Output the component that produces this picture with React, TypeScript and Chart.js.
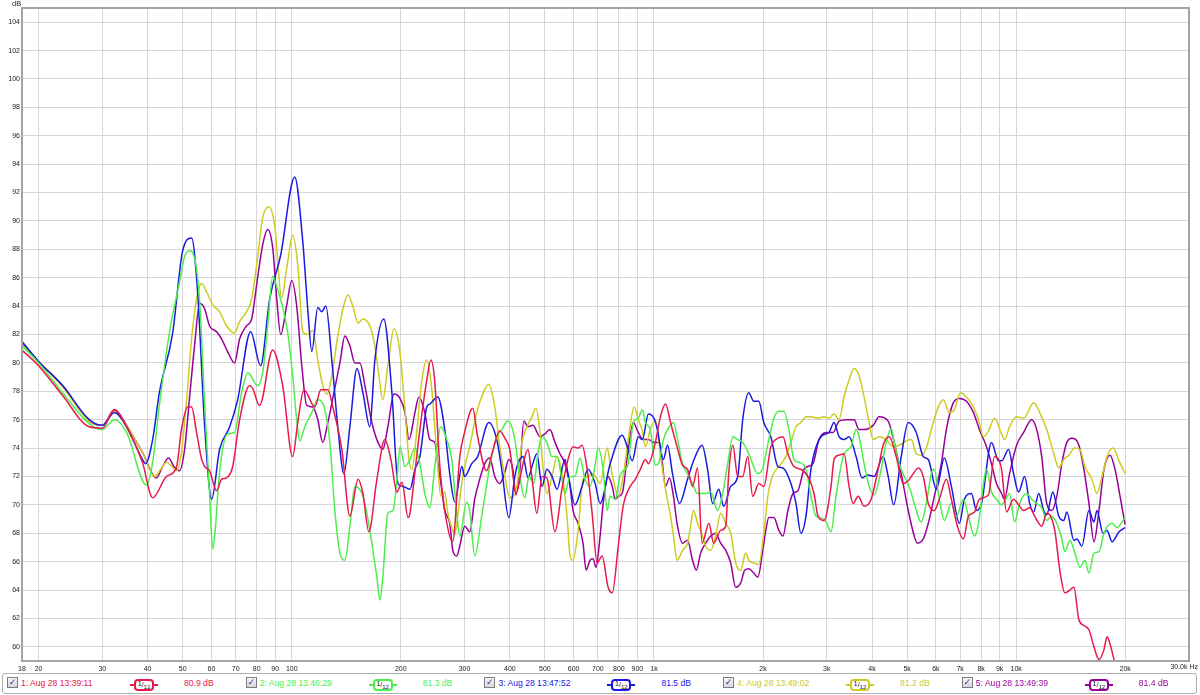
import React, { useEffect, useRef } from "react";
import { Chart, registerables } from "chart.js";

Chart.register(...registerables);

const FONT = "'Liberation Sans', Arial, Helvetica, sans-serif";

// ---- axis ticks ----
const xTickValues = [18, 20, 30, 40, 50, 60, 70, 80, 90, 100, 200, 300, 400, 500, 600, 700, 800, 900, 1000, 2000, 3000, 4000, 5000, 6000, 7000, 8000, 9000, 10000, 20000, 30000];
const xTickLabels = ["18", "20", "30", "40", "50", "60", "70", "80", "90", "100", "200", "300", "400", "500", "600", "700", "800", "900", "1k", "2k", "3k", "4k", "5k", "6k", "7k", "8k", "9k", "10k", "20k", ""];
const yTickValues = [60, 62, 64, 66, 68, 70, 72, 74, 76, 78, 80, 82, 84, 86, 88, 90, 92, 94, 96, 98, 100, 102, 104];
const xEndLabel = "30.0k Hz";
const yUnitLabel = "dB";

// ---- legend ----
const seriesNames = ["1: Aug 28 13:39:11", "2: Aug 28 13:46:29", "3: Aug 28 13:47:52", "4: Aug 28 13:49:02", "5: Aug 28 13:49:39"];
const seriesLevels = ["80.9 dB", "81.3 dB", "81.5 dB", "81.2 dB", "81.4 dB"];
const seriesColors = ["#e8194b", "#4cee4c", "#1a1ae0", "#cccc22", "#990099"];

// ---- traces: [frequency Hz, level dB] ----
const redTrace: [number, number][] = [
  [18.0, 80.9], [20.0, 79.8], [23.3, 77.7], [27.6, 75.5], [30.0, 75.4], [32.4, 76.7], [35.0, 75.5], [38.7, 73.0], [41.3, 70.5], [45.1, 72.0],
  [48.1, 72.7], [49.6, 75.3], [51.6, 76.9], [52.9, 76.9], [54.6, 75.1], [56.4, 73.2], [57.5, 72.7], [59.3, 72.4], [62.0, 71.0], [64.0, 71.8],
  [66.1, 71.9], [68.7, 72.7], [71.8, 76.0], [76.5, 78.4], [78.0, 78.2], [81.5, 77.0], [88.6, 80.9], [94.4, 78.4], [100.6, 73.4], [103.9, 75.8],
  [108.0, 78.1], [115.8, 76.9], [120.3, 78.1], [125.8, 78.1], [129.8, 76.9], [137.5, 73.9], [144.7, 69.2], [152.4, 71.8], [157.2, 70.8], [163.2, 68.1],
  [171.8, 71.8], [180.7, 74.6], [187.8, 73.2], [195.2, 70.9], [201.6, 71.6], [209.4, 69.1], [212, 69.4], [218.8, 72.3], [225.8, 75.3], [236, 78.8],
  [242, 80.2], [248, 78.8], [256, 72.9], [264.5, 69.6], [278, 67.4], [291, 73.4], [300, 75.1], [316, 76.8], [326, 74.8], [345, 72.4],
  [357, 73.6], [375, 75.2], [387.5, 74.7], [400, 73.9], [416, 70.8], [435, 72.9], [449, 73.9], [460, 72.0], [475, 69.4], [491, 72.0],
  [506, 71.9], [533, 68.1], [557, 71.1], [579, 73.2], [598, 74.1], [617, 74.0], [633, 74.2], [654, 72.5], [675, 69.4], [697, 65.9],
  [719, 66.4], [747, 64.2], [767, 63.8], [797, 67.1], [822, 69.9], [860, 71.3], [888, 71.8], [917, 72.5], [947, 73.2], [965, 72.9],
  [1009, 74.4], [1042, 76.2], [1076, 77.1], [1111, 75.8], [1158, 74.1], [1199, 72.8], [1238, 72.5], [1278, 71.3], [1319, 72.6], [1358, 67.3],
  [1418, 68.7], [1461, 67.3], [1528, 68.2], [1578, 68.5], [1608, 72.2], [1651, 74.2], [1703, 72.0], [1758, 72.0], [1815, 73.4], [1874, 70.6],
  [1947, 71.5], [2010, 71.3], [2102, 74.1], [2170, 74.6], [2270, 74.8], [2343, 73.6], [2434, 72.7], [2545, 72.5], [2661, 72.0], [2766, 70.8],
  [2837, 69.2], [2948, 68.9], [3082, 71.3], [3141, 73.2], [3243, 73.5], [3348, 73.6], [3457, 71.3], [3546, 70.1], [3661, 70.6], [3803, 69.9],
  [3977, 70.4], [4158, 72.5], [4292, 74.2], [4460, 74.8], [4664, 73.4], [4877, 71.5], [5035, 71.7], [5198, 72.2], [5365, 72.6], [5540, 72.0],
  [5720, 70.1], [5943, 69.6], [6135, 70.4], [6415, 71.8], [6623, 70.4], [6880, 68.5], [7150, 67.6], [7382, 69.2], [7670, 69.5], [7918, 70.4],
  [8385, 70.7], [8714, 73.4], [9112, 72.5], [9407, 69.5], [9837, 70.4], [10156, 70.0], [10485, 69.6], [10895, 69.8], [11248, 69.2], [11762, 68.5],
  [12144, 69.4], [12379, 69.3], [12781, 68.2], [13195, 65.4], [13623, 63.8], [14065, 64.0], [14430, 64.2], [14900, 61.9], [15380, 61.5], [15880, 61.2],
  [16395, 60.0], [16925, 59.1], [17475, 59.8], [17814, 60.7], [18159, 60.2], [18630, 59.1], [19357, 57.5],
];

const greenTrace: [number, number][] = [
  [18.0, 81.2], [20.0, 80.0], [23.3, 77.9], [27.6, 75.7], [30.0, 75.3], [32.4, 76.0], [35.0, 75.1], [39.7, 71.4], [41.3, 73.0], [43.1, 77.0],
  [46.0, 82.2], [49.0, 85.7], [50.6, 87.5], [52.2, 87.9], [53.9, 87.4], [55.7, 84.3], [57.5, 77.0], [59.3, 70.8], [60.5, 66.9], [61.6, 68.5],
  [62.8, 71.5], [64.4, 73.9], [66.5, 75.0], [69.5, 75.1], [72.7, 77.9], [75.7, 79.3], [80.5, 78.4], [83.1, 79.3], [85.8, 82.6], [88.6, 86.1],
  [90.9, 85.4], [93.8, 84.2], [97.5, 82.1], [100.6, 79.1], [103.2, 76.0], [105.2, 74.5], [108.6, 75.5], [113.6, 76.5], [118.0, 77.4], [123.4, 76.7],
  [127.4, 74.4], [131.5, 69.6], [135.8, 66.6], [140.2, 66.1], [144.7, 68.5], [149.4, 71.3], [156.3, 70.8], [161.2, 69.4], [166.4, 67.3], [171.8, 64.9],
  [175.1, 63.3], [178.4, 64.9], [184.2, 69.4], [190.3, 69.6], [195.2, 71.8], [199.0, 74.1], [205.4, 72.7], [212, 73.2], [218.8, 74.0], [225.8, 72.9],
  [233, 70.8], [240.5, 69.8], [248.3, 72.7], [258, 75.5], [267.9, 74.6], [276.5, 73.2], [285.4, 69.4], [291, 67.8], [304, 70.2], [310, 69.6],
  [320, 66.4], [334.6, 69.2], [352, 72.7], [368, 74.8], [380, 75.3], [395, 75.9], [413, 74.6], [426, 72.0], [440, 70.5], [452, 72.0],
  [466, 71.5], [478, 73.6], [491, 74.8], [506, 74.4], [523, 73.4], [540, 73.4], [557, 71.8], [568, 70.8], [586, 72.0], [605, 72.0],
  [625, 73.3], [645, 71.8], [666, 71.3], [688, 72.8], [701, 74.0], [724, 72.5], [743, 69.6], [757, 70.6], [782, 70.4], [807, 72.1],
  [833, 72.5], [849, 72.9], [877, 75.8], [905, 76.1], [929, 76.7], [947, 75.8], [977, 75.3], [1009, 72.8], [1029, 72.9], [1062, 74.6],
  [1090, 75.3], [1132, 75.8], [1158, 74.8], [1199, 72.9], [1238, 72.2], [1278, 71.5], [1319, 70.8], [1389, 70.8], [1434, 70.9], [1499, 69.6],
  [1548, 70.8], [1598, 72.9], [1651, 74.8], [1703, 74.6], [1758, 74.4], [1827, 73.6], [1935, 72.2], [1997, 72.6], [2075, 74.6], [2143, 76.1],
  [2212, 76.6], [2284, 76.6], [2358, 75.3], [2434, 73.2], [2513, 73.0], [2628, 72.5], [2713, 70.6], [2801, 69.2], [2892, 69.1], [2985, 68.8],
  [3082, 68.1], [3181, 70.6], [3327, 73.4], [3435, 73.9], [3501, 74.1], [3614, 75.3], [3684, 74.8], [3803, 72.9], [3927, 71.3], [4053, 70.7],
  [4238, 72.5], [4376, 74.4], [4517, 75.4], [4605, 74.4], [4754, 72.9], [4908, 72.0], [5067, 71.3], [5231, 70.1], [5470, 68.8], [5647, 70.1],
  [5830, 72.2], [5943, 72.5], [6135, 70.4], [6334, 68.9], [6623, 70.1], [6838, 69.2], [7150, 70.4], [7382, 69.2], [7670, 67.8], [7868, 68.7],
  [8123, 71.5], [8280, 72.5], [8548, 70.9], [8825, 70.4], [9112, 70.0], [9407, 70.5], [9589, 70.8], [9900, 68.8], [10222, 70.1], [10688, 70.8],
  [11035, 70.4], [11393, 70.1], [11762, 69.8], [12144, 68.9], [12538, 69.2], [12945, 68.7], [13365, 67.6], [13623, 66.7], [14065, 67.5], [14522, 66.6],
  [14993, 65.6], [15479, 66.1], [15880, 65.2], [16395, 66.6], [16925, 66.7], [17475, 68.0], [18392, 68.7], [18989, 68.4], [19606, 68.8], [19985, 69.1],
];

const blueTrace: [number, number][] = [
  [18.0, 81.5], [20.0, 80.1], [23.3, 78.4], [27.6, 76.0], [30.0, 75.6], [32.4, 76.5], [35.0, 75.5], [38.7, 73.2], [39.5, 72.9], [41.3, 74.6],
  [43.1, 77.9], [46.9, 82.1], [49.9, 87.8], [52.9, 88.8], [55.0, 84.9], [57.5, 75.5], [60.1, 70.4], [63.2, 73.9], [67.4, 75.5], [70.9, 77.4],
  [77.0, 82.2], [82.0, 79.8], [86.9, 84.5], [93.2, 87.6], [101.9, 93.1], [107.3, 88.5], [110.7, 83.8], [113.6, 80.8], [118.0, 83.9], [121.0, 83.6],
  [124.2, 84.0], [129.0, 80.2], [134.0, 75.5], [139.3, 72.2], [144.7, 75.5], [151.4, 79.6], [157.2, 77.9], [164.3, 75.5], [169.6, 80.2], [179.5, 83.1],
  [189.0, 77.9], [196.5, 71.5], [202.9, 71.3], [212, 71.1], [218.8, 72.5], [225.8, 73.4], [236, 76.9], [240.5, 77.1], [253, 77.6], [264.5, 75.3],
  [273, 72.2], [282, 70.2], [295, 72.7], [300, 72.0], [314, 72.9], [326, 73.4], [350, 75.8], [368, 74.6], [380, 72.5], [397.5, 69.1],
  [413, 72.0], [421, 72.9], [435, 73.4], [449, 71.9], [463, 72.9], [475, 73.6], [491, 71.3], [506, 72.5], [523, 72.0], [540, 71.1],
  [568, 73.2], [579, 72.2], [605, 70.0], [633, 71.3], [658, 72.5], [688, 71.5], [710, 70.1], [757, 72.9], [817, 74.9], [844, 74.1],
  [871, 73.1], [905, 74.8], [929, 74.6], [965, 76.4], [1000, 76.1], [1022, 75.3], [1062, 73.2], [1090, 74.2], [1125, 72.2], [1176, 70.1],
  [1238, 71.8], [1286, 73.1], [1358, 74.2], [1406, 72.5], [1452, 70.1], [1509, 71.1], [1558, 69.9], [1629, 71.3], [1703, 72.0], [1758, 76.0],
  [1827, 77.9], [1886, 77.3], [1947, 77.3], [2010, 75.8], [2102, 74.8], [2198, 72.7], [2270, 72.6], [2388, 71.5], [2466, 70.1], [2545, 68.0],
  [2628, 69.2], [2713, 72.5], [2892, 74.8], [3043, 75.1], [3141, 75.8], [3243, 74.8], [3348, 74.6], [3457, 74.8], [3614, 73.4], [3755, 71.9],
  [3900, 72.1], [4053, 72.0], [4290, 73.4], [4432, 72.0], [4590, 70.0], [4815, 73.4], [5035, 75.8], [5298, 75.1], [5540, 73.4], [5720, 73.2],
  [6019, 71.1], [6334, 73.3], [6623, 71.3], [6970, 68.7], [7196, 70.4], [7524, 70.8], [7768, 69.6], [8020, 70.1], [8548, 74.4], [8940, 73.1],
  [9112, 73.1], [9530, 73.9], [9837, 72.2], [10156, 70.9], [10553, 72.0], [10895, 70.1], [11180, 69.5], [11540, 70.8], [11910, 69.6], [12144, 69.3],
  [12620, 70.9], [13110, 69.2], [13540, 68.9], [13798, 69.5], [14430, 67.5], [14708, 67.6], [15185, 67.1], [15880, 69.6], [16395, 68.8], [16711, 69.6],
  [17365, 68.0], [17814, 68.2], [18392, 67.4], [19230, 68.1], [19985, 68.4],
];

const yellowTrace: [number, number][] = [
  [18.0, 81.3], [20.0, 80.1], [23.3, 78.3], [27.6, 75.9], [30.0, 75.6], [32.4, 76.6], [35.0, 75.6], [38.7, 73.7], [41.8, 72.0], [43.7, 72.6],
  [45.1, 73.0], [46.6, 72.7], [48.1, 72.4], [49.6, 73.7], [51.3, 77.5], [52.9, 81.7], [54.6, 84.5], [56.4, 85.6], [58.2, 85.0], [60.5, 84.1],
  [63.2, 83.6], [66.1, 82.6], [69.5, 82.1], [71.8, 82.9], [75.0, 83.6], [77.5, 84.5], [80.0, 86.9], [83.1, 90.2], [86.4, 91.0], [89.7, 89.7],
  [93.8, 84.6], [96.9, 86.7], [100.6, 89.0], [103.9, 86.9], [107.3, 82.2], [110.7, 82.0], [114.3, 82.3], [118.0, 80.2], [121.8, 78.4], [125.0, 77.8],
  [129.0, 79.1], [134.0, 81.9], [138.4, 83.8], [142.9, 84.8], [147.4, 84.0], [152.4, 82.8], [157.2, 83.1], [164.3, 82.6], [169.6, 81.2], [174.0, 79.1],
  [178.4, 77.4], [184.2, 79.8], [191.5, 82.4], [199.0, 80.7], [205.4, 76.7], [210.7, 73.2], [214.7, 72.5], [221.6, 75.3], [228.7, 78.8], [236, 80.2],
  [243.6, 78.1], [251.5, 73.6], [258, 70.6], [264.5, 70.9], [269.6, 69.4], [278.3, 68.2], [281.8, 67.9], [287.2, 69.2], [296.5, 72.0], [310, 74.1],
  [324, 76.5], [336.7, 77.8], [349.8, 78.5], [363.5, 76.9], [375.3, 74.1], [387.5, 72.0], [400, 70.5], [418.3, 71.3], [431.9, 74.4], [446, 75.5],
  [460.3, 76.2], [472.2, 76.8], [484.4, 75.1], [493.8, 72.7], [506.5, 70.8], [522.9, 72.0], [539.8, 73.4], [557.3, 72.2], [575.4, 69.2], [586.5, 66.4],
  [597.8, 66.1], [617.2, 68.2], [637, 71.8], [658, 72.0], [675, 72.2], [697, 71.8], [710, 71.5], [743, 74.0], [757, 72.9], [772, 71.8],
  [797, 70.6], [822, 72.0], [849, 74.6], [882, 76.9], [905, 76.0], [929, 75.2], [947, 74.1], [977, 75.3], [1009, 76.0], [1042, 73.5],
  [1076, 71.1], [1111, 69.2], [1132, 67.8], [1158, 66.1], [1199, 66.8], [1238, 67.3], [1262, 68.5], [1286, 69.6], [1319, 68.7], [1345, 68.2],
  [1389, 67.1], [1434, 66.8], [1480, 67.8], [1528, 69.4], [1578, 68.7], [1629, 68.0], [1681, 65.9], [1736, 65.4], [1792, 66.6], [1827, 66.1],
  [1886, 65.9], [1947, 65.8], [2010, 68.0], [2062, 70.6], [2129, 72.1], [2212, 72.7], [2313, 73.4], [2388, 74.4], [2466, 75.5], [2545, 75.8],
  [2628, 76.2], [2713, 76.2], [2837, 76.1], [2948, 76.2], [3043, 76.1], [3141, 76.4], [3243, 76.0], [3348, 77.6], [3457, 78.8], [3569, 79.6],
  [3684, 79.1], [3803, 77.6], [3927, 75.8], [4027, 74.6], [4185, 74.8], [4376, 74.6], [4575, 74.1], [4754, 74.2], [4971, 74.5], [5132, 74.6],
  [5298, 73.6], [5470, 73.5], [5647, 74.0], [5830, 75.3], [6096, 76.9], [6294, 77.4], [6539, 76.5], [6751, 76.7], [7014, 77.9], [7288, 77.6],
  [7621, 76.9], [7868, 76.0], [8123, 74.8], [8385, 75.2], [8714, 76.1], [9112, 75.0], [9288, 74.6], [9589, 75.5], [10027, 76.2], [10485, 76.1],
  [11180, 77.2], [11613, 76.5], [12144, 75.3], [12700, 73.6], [13110, 72.6], [13540, 73.2], [13976, 73.5], [14522, 74.0], [14993, 73.9], [15479, 72.7],
  [16186, 71.8], [16711, 70.8], [17254, 72.0], [17814, 73.4], [18510, 74.0], [19230, 73.1], [19985, 72.2],
];

const purpleTrace: [number, number][] = [
  [18.0, 81.4], [20.0, 80.1], [23.3, 78.4], [27.6, 75.9], [30.0, 75.6], [32.4, 76.7], [35.0, 75.6], [38.7, 73.7], [42.3, 71.9], [44.0, 72.7],
  [45.7, 73.3], [47.3, 72.7], [49.0, 72.4], [50.6, 73.9], [52.2, 77.5], [53.9, 81.2], [55.7, 84.2], [57.5, 83.8], [59.3, 82.6], [62.0, 82.2],
  [64.0, 81.7], [66.5, 80.8], [69.5, 80.0], [71.8, 81.7], [75.0, 82.6], [77.5, 83.1], [80.0, 85.5], [83.1, 88.3], [85.8, 89.4], [88.6, 88.1],
  [90.9, 84.5], [93.2, 82.0], [96.9, 84.1], [100, 85.8], [103.2, 84.0], [106.6, 79.8], [110, 77.0], [114.3, 76.9], [118, 76.0], [121.8, 74.4],
  [125.8, 75.8], [129.8, 77.5], [135.8, 80.0], [140.2, 81.9], [144.7, 81.2], [149.4, 80.0], [154.3, 80.0], [159.2, 78.4], [166.4, 75.8], [173, 74.4],
  [178.4, 73.9], [184.2, 75.5], [191.5, 77.8], [199, 77.5], [205.4, 76.5], [210.7, 74.6], [218.8, 76.5], [224.4, 77.6], [233, 76.5], [240.5, 74.6],
  [248.3, 74.4], [253.1, 72.9], [259.5, 71.1], [264.5, 69.6], [273, 68.7], [278.3, 66.8], [285.4, 66.4], [291, 67.1], [300.3, 68.5], [310, 68.1],
  [320, 70.4], [330.3, 71.8], [341, 72.9], [352, 73.3], [363.5, 72.0], [375.3, 71.5], [387.5, 72.3], [397.5, 73.2], [407.8, 72.5], [415.6, 70.7],
  [426.4, 72.5], [437.4, 75.9], [448.7, 75.5], [463.2, 75.6], [484.4, 74.8], [500, 75.0], [516, 75.3], [533, 74.4], [550, 73.6], [568, 72.9],
  [586.5, 71.3], [597.8, 69.6], [617.2, 68.7], [637, 67.3], [649.5, 65.4], [666, 66.1], [679, 66.2], [692, 65.6], [710, 67.8], [724, 70.1],
  [747, 72.0], [767, 71.3], [782, 70.4], [797, 70.6], [817, 70.8], [844, 73.4], [877, 75.8], [905, 75.1], [934, 74.6], [965, 74.6],
  [1000, 74.4], [1035, 74.4], [1055, 72.9], [1076, 71.3], [1104, 71.9], [1132, 70.6], [1158, 68.7], [1199, 67.3], [1238, 67.5], [1278, 66.1],
  [1310, 65.4], [1345, 66.6], [1389, 67.3], [1434, 67.8], [1480, 68.0], [1528, 67.3], [1578, 66.8], [1629, 65.9], [1681, 64.2], [1736, 64.5],
  [1780, 65.4], [1827, 65.5], [1886, 65.2], [1935, 64.9], [1997, 66.8], [2036, 68.2], [2075, 69.1], [2143, 69.1], [2212, 68.2], [2270, 67.8],
  [2343, 69.6], [2419, 70.8], [2497, 71.0], [2595, 72.5], [2661, 72.7], [2748, 72.9], [2855, 74.6], [2985, 75.1], [3122, 75.1], [3243, 75.9],
  [3391, 76.0], [3569, 76.0], [3684, 75.3], [3803, 75.3], [4027, 75.6], [4185, 76.2], [4432, 75.9], [4605, 74.4], [4815, 72.2], [5035, 69.6],
  [5231, 67.8], [5333, 67.3], [5540, 67.6], [5720, 68.7], [5943, 70.6], [6214, 72.9], [6415, 75.3], [6708, 77.2], [6970, 77.5], [7288, 77.3],
  [7621, 76.5], [7918, 75.3], [8280, 74.1], [8548, 72.9], [8825, 71.5], [9112, 70.8], [9288, 70.4], [9589, 72.2], [10027, 74.2], [10485, 75.1],
  [11035, 76.0], [11393, 75.3], [11762, 73.4], [12144, 70.1], [12538, 69.6], [12945, 70.6], [13365, 72.9], [13798, 74.4], [14246, 74.7], [14900, 74.2],
  [15380, 72.5], [15880, 70.1], [16395, 67.4], [16925, 69.6], [17475, 72.5], [18159, 73.5], [18748, 72.5], [19357, 70.6], [19985, 68.6],
];

const traces = [redTrace, greenTrace, blueTrace, yellowTrace, purpleTrace];

const framePlugin = {
  id: "frame",
  afterDraw(chart: any) {
    const { ctx, chartArea } = chart;
    ctx.save();
    ctx.strokeStyle = "#a4a4a4";
    ctx.lineWidth = 2;
    ctx.strokeRect(chartArea.left, chartArea.top, chartArea.right - chartArea.left, chartArea.bottom - chartArea.top);
    ctx.restore();
  },
};

function LegendItem({ index }: { index: number }) {
  const base = 7 + 238.7 * index;
  const color = seriesColors[index];
  return (
    <>
      <div
        style={{
          position: "absolute", left: base, top: 677, width: 9, height: 9,
          border: "1px solid #7c7c7c", background: "linear-gradient(#f6f6f6, #d8d8d8)",
          fontFamily: "'DejaVu Sans', sans-serif", fontSize: 9, lineHeight: "9px",
          color: "#2a3a96", textAlign: "center", fontWeight: "bold",
        }}
      >
        ✓
      </div>
      <div style={{ position: "absolute", left: base + 14, top: 677, fontFamily: FONT, fontSize: 8.6, lineHeight: "12px", color, whiteSpace: "nowrap" }}>
        {seriesNames[index]}
      </div>
      <div style={{ position: "absolute", left: base + 123, top: 684, width: 28, height: 2, background: color }} />
      <div
        style={{
          position: "absolute", left: base + 127, top: 679, width: 16, height: 8,
          border: `2px solid ${color}`, borderRadius: 4, background: "#fff",
          fontFamily: FONT, fontSize: 7, lineHeight: "8px", color: "#111", textAlign: "center", whiteSpace: "nowrap",
        }}
      >
        <span style={{ position: "relative", top: -1 }}>1</span>/<span style={{ position: "relative", top: 2, fontSize: 6 }}>12</span>
      </div>
      <div style={{ position: "absolute", left: base + 177, top: 677, fontFamily: FONT, fontSize: 8.6, lineHeight: "12px", color, whiteSpace: "nowrap" }}>
        {seriesLevels[index]}
      </div>
    </>
  );
}

export default function App() {
  const canvasRef = useRef<HTMLCanvasElement | null>(null);

  useEffect(() => {
    const canvas = canvasRef.current;
    if (!canvas) return;
    const chart = new Chart(canvas, {
      type: "line",
      data: {
        datasets: traces.map((t, i) => ({
          label: seriesNames[i],
          data: t.map(([x, y]) => ({ x, y })),
          borderColor: seriesColors[i],
          backgroundColor: seriesColors[i],
          borderWidth: 1.5,
          pointRadius: 0,
          cubicInterpolationMode: "monotone" as const,
          fill: false,
        })),
      },
      options: {
        responsive: false,
        animation: false,
        layout: { padding: { top: 8, right: 11, left: 0, bottom: 0 } },
        plugins: { legend: { display: false }, tooltip: { enabled: false } },
        scales: {
          x: {
            type: "logarithmic",
            min: 18,
            max: 30000,
            afterBuildTicks: (s: any) => {
              s.ticks = xTickValues.map((v) => ({ value: v }));
            },
            afterFit: (s: any) => {
              s.height = 11;
            },
            ticks: {
              autoSkip: false,
              maxRotation: 0,
              padding: 4,
              color: "#222",
              font: { family: FONT, size: 7 },
              callback: (_v: any, i: number) => xTickLabels[i],
            },
            grid: { color: "#d6d6d6", lineWidth: 1, drawTicks: false },
            border: { display: false },
          },
          y: {
            min: 59,
            max: 105,
            afterBuildTicks: (s: any) => {
              s.ticks = yTickValues.map((v) => ({ value: v }));
            },
            afterFit: (s: any) => {
              s.width = 22;
            },
            ticks: {
              padding: 2,
              color: "#222",
              font: { family: FONT, size: 7 },
              callback: (v: any) => String(v),
            },
            grid: { color: "#d6d6d6", lineWidth: 1, drawTicks: false },
            border: { display: false },
          },
        },
      },
      plugins: [framePlugin],
    });
    return () => chart.destroy();
  }, []);

  return (
    <div style={{ position: "absolute", left: 0, top: 0, width: 1200, height: 695, background: "#fff", overflow: "hidden" }}>
      <canvas ref={canvasRef} width={1200} height={672} style={{ position: "absolute", left: 0, top: 0, width: 1200, height: 672 }} />
      <div style={{ position: "absolute", left: 12, top: -1, fontFamily: FONT, fontSize: 7.5, color: "#222" }}>{yUnitLabel}</div>
      <div style={{ position: "absolute", right: 2, top: 663, fontFamily: FONT, fontSize: 7, color: "#222", whiteSpace: "nowrap" }}>{xEndLabel}</div>
      <div
        style={{
          position: "absolute", left: 2, top: 673, width: 1195, height: 21, boxSizing: "border-box",
          border: "1px solid #b0b0b0", borderRadius: 3, background: "#fff",
        }}
      />
      {seriesNames.map((_, i) => (
        <LegendItem key={i} index={i} />
      ))}
    </div>
  );
}
